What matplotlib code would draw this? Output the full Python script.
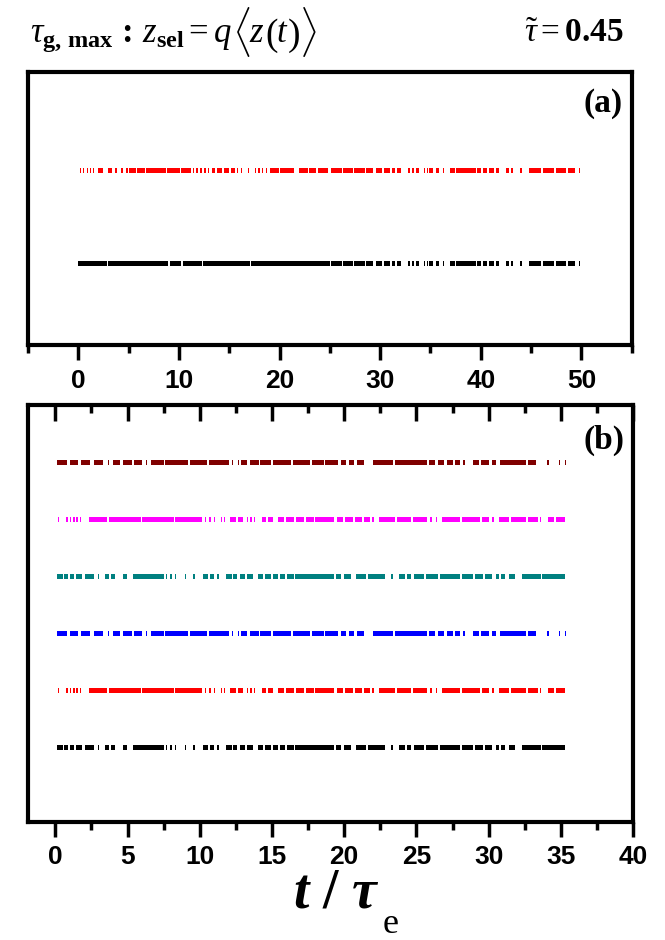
import matplotlib
matplotlib.use('Agg')
import matplotlib.pyplot as plt
import matplotlib.transforms as mtransforms
from matplotlib.ticker import MultipleLocator

plt.rcParams['mathtext.fontset'] = 'custom'
plt.rcParams['mathtext.rm'] = 'Liberation Serif'
plt.rcParams['mathtext.it'] = 'Liberation Serif:italic'
plt.rcParams['mathtext.bf'] = 'Liberation Serif:bold'
plt.rcParams['mathtext.bfit'] = 'Liberation Serif:italic:bold'

# ---- panel (a): occupied time windows (t / tau_e) ----
a_red_segments = [
    (2.0, 2.5), (3.0, 3.4), (3.7, 3.9), (4.2, 4.45),
    (5.0, 5.7), (5.85, 6.6), (6.75, 8.7), (8.85, 10.1), (10.25, 11.2),
    (13.3, 13.6), (13.8, 14.3), (14.45, 15.0), (15.15, 15.6),
    (19.1, 19.9), (20.05, 21.4), (21.9, 22.8), (22.95, 23.6), (23.8, 24.8),
    (25.1, 26.2), (26.35, 27.3), (27.45, 28.5), (28.6, 29.3),
    (29.6, 30.2), (30.35, 31.0), (31.15, 31.5), (31.7, 32.1),
    (32.8, 33.0), (33.2, 33.4), (33.6, 33.9), (34.9, 35.3), (35.5, 35.8),
    (36.9, 37.4), (37.55, 39.5), (39.6, 40.0), (40.2, 40.6), (40.8, 41.3),
    (41.5, 41.8), (42.5, 42.8),
    (44.8, 46.0), (46.2, 47.3), (47.5, 48.5), (48.7, 49.4),
]
a_red_ticks = [0.2, 0.55, 0.9, 1.25, 1.5, 4.85, 11.45, 11.8, 12.2, 12.6,
               12.95, 15.8, 16.2, 16.9, 17.6, 17.95, 18.3, 18.7, 34.4, 34.7,
               36.3, 43.1, 44.0, 49.8]
a_black_head = [(0.0, 2.85), (3.0, 8.95), (9.1, 10.25), (10.4, 12.25),
                (12.4, 17.05), (17.2, 25.0)]

# ---- panel (b): three recurring patterns ----
b_pattern_1 = [
    (0.12, 0.8), (1.0, 1.6), (1.75, 2.4), (2.65, 3.3), (4.0, 4.5),
    (4.65, 5.3), (5.45, 6.0), (6.6, 7.5), (7.6, 9.2), (9.35, 10.5),
    (10.65, 12.0), (12.85, 13.3), (13.45, 14.1), (14.2, 14.9),
    (15.05, 16.3), (16.45, 17.6), (17.75, 18.6), (18.7, 19.6),
    (19.75, 20.1), (20.3, 20.7), (20.9, 21.4), (22.0, 23.4), (23.5, 25.7),
    (25.9, 26.3), (26.5, 26.9), (27.1, 27.5), (27.7, 28.0),
    (28.9, 29.3), (29.5, 30.0), (30.2, 30.5), (30.8, 32.6), (32.7, 33.3),
]
b_ticks_1 = [3.7, 6.3, 12.25, 12.7, 28.3, 34.1, 34.9, 35.3]

b_pattern_2 = [
    (2.3, 3.6), (3.7, 5.9), (6.0, 8.2), (8.3, 10.15), (12.1, 12.5),
    (12.65, 13.0), (14.3, 14.6), (14.75, 15.1), (15.4, 15.8),
    (15.95, 16.5), (16.65, 17.2), (17.35, 17.9), (18.0, 19.3),
    (19.5, 19.9), (20.05, 20.6), (20.75, 21.2), (21.35, 21.8),
    (22.4, 23.5), (23.65, 24.6), (24.75, 25.7), (25.95, 26.1),
    (26.8, 28.0), (28.15, 29.4), (29.55, 30.0), (30.7, 31.4),
    (31.55, 32.6), (32.75, 33.4), (34.1, 34.5), (34.65, 35.3),
]
b_ticks_2 = [0.23, 0.8, 1.05, 1.3, 1.5, 1.73, 10.4, 10.7, 11.0, 11.5,
             11.7, 13.3, 13.55, 13.8, 22.0, 26.4, 30.3, 33.6]

b_pattern_3 = [
    (0.12, 0.5), (0.6, 0.9), (1.0, 1.3), (1.45, 1.85), (2.08, 2.65),
    (3.46, 3.7), (3.85, 4.15), (4.7, 4.96), (5.4, 7.5), (10.2, 10.6),
    (10.7, 11.0), (11.8, 12.2), (12.3, 12.6), (12.8, 13.1), (13.25, 13.7),
    (14.0, 14.4), (14.5, 14.9), (15.1, 15.4), (15.55, 15.9), (16.05, 16.5),
    (16.6, 19.3), (19.45, 19.8), (19.95, 20.5), (20.8, 21.5), (21.65, 22.8),
    (23.8, 24.2), (24.35, 24.6), (24.8, 25.5), (25.65, 26.5), (26.6, 28.0),
    (28.15, 28.9), (29.05, 29.6), (29.75, 30.2), (30.5, 30.7),
    (30.85, 31.1), (31.4, 31.8), (32.3, 33.6), (33.7, 35.3),
]
b_ticks_3 = [3.0, 7.7, 8.0, 8.3, 9.0, 9.6, 11.25, 23.3]

# rows of panel (b), bottom to top
b_rows = [
    ('black', b_pattern_3, b_ticks_3),
    ('#ff0000', b_pattern_2, b_ticks_2),
    ('#0000ff', b_pattern_1, b_ticks_1),
    ('#008080', b_pattern_3, b_ticks_3),
    ('#ff00ff', b_pattern_2, b_ticks_2),
    ('#800000', b_pattern_1, b_ticks_1),
]

a_ticks = [0, 10, 20, 30, 40, 50]
b_ticks = [0, 5, 10, 15, 20, 25, 30, 35, 40]
b_minor_ticks = [2.5, 7.5, 12.5, 17.5, 22.5, 27.5, 32.5, 37.5]

TICK_FONT = {'family': 'Liberation Sans', 'weight': 'bold', 'size': 19}


def draw_row(ax, y, segments, ticks, color, height, tick_w):
    """Draw one barcode row: solid windows plus single thin events."""
    bars = [(s, e - s) for s, e in segments]
    bars += [(t - tick_w / 2, tick_w) for t in ticks]
    ax.broken_barh(bars, (y - height / 2, height), facecolors=color,
                   edgecolors='none')


def style_axes(ax, ticks, minor):
    for sp in ax.spines.values():
        sp.set_linewidth(3)
    ax.set_yticks([])
    ax.set_xticks(ticks, [str(v) for v in ticks], fontdict=TICK_FONT)
    ax.xaxis.set_minor_locator(MultipleLocator(minor))
    ax.tick_params(axis='x', which='major', direction='out', length=11,
                   width=2.5, pad=6)
    ax.tick_params(axis='x', which='minor', direction='out', length=6,
                   width=2.5)


fig = plt.figure(figsize=(6.65, 9.4), dpi=100)

# panel (a)
ax_a = fig.add_axes([0.042, 0.633, 0.908, 0.290])
a_black = a_black_head + [s for s in a_red_segments if s[0] >= 25.0]
a_black_ticks = [t for t in a_red_ticks if t >= 25.0]
draw_row(ax_a, 1, a_black, a_black_ticks, 'black', 0.06, 0.13)
draw_row(ax_a, 2, a_red_segments, a_red_ticks, '#ff0000', 0.06, 0.13)
ax_a.set_xlim(-5, 55)
ax_a.set_ylim(0.12, 3.06)
style_axes(ax_a, a_ticks, 5)
ax_a.text(0.985, 0.885, '(a)', transform=ax_a.transAxes, ha='right',
          va='center', fontsize=24, fontweight='bold',
          family='Liberation Serif')

# panel (b)
ax_b = fig.add_axes([0.042, 0.126, 0.910, 0.443])
for i, (col, segs, tks) in enumerate(b_rows):
    draw_row(ax_b, i + 1, segs, tks, col, 0.09, 0.09)
ax_b.set_xlim(-1.9, 40)
ax_b.set_ylim(-0.3, 7.0)
style_axes(ax_b, b_ticks, 2.5)
# tick marks hanging from the top edge into the box
top_tr = mtransforms.blended_transform_factory(ax_b.transData,
                                               ax_b.transAxes)
ax_b.vlines(b_ticks, 0.963, 1.0, transform=top_tr, colors='black',
            linewidth=2.5, clip_on=False, zorder=5)
ax_b.vlines(b_minor_ticks, 0.981, 1.0, transform=top_tr, colors='black',
            linewidth=2.5, clip_on=False, zorder=5)
ax_b.set_xlim(-1.9, 40)
ax_b.set_ylim(-0.3, 7.0)
ax_b.text(0.985, 0.915, '(b)', transform=ax_b.transAxes, ha='right',
          va='center', fontsize=24, fontweight='bold',
          family='Liberation Serif')

# heading: formula built from pieces so brackets can be tall
base_y = 0.955
pieces = [
    (r'$\tau_{\mathbf{g,\,max}}\,\mathbf{:}\,z_{\mathbf{sel}}=q$', 25, 0, 0),
    (r'$\langle$', 30, 0, -3),
    (r'$z$', 25, -1, 0),
    (r'$($', 27, 0, -2),
    (r'$t$', 25, -1, 0),
    (r'$)$', 27, -1, -2),
    (r'$\rangle$', 30, -1, -3),
]
prev = fig.text(0.045, base_y, pieces[0][0], ha='left', va='baseline',
                fontsize=pieces[0][1])
for s, size, gap, dy in pieces[1:]:
    prev = ax_a.annotate(s, xy=(1, base_y), xycoords=(prev, 'figure fraction'),
                         xytext=(gap, dy), textcoords='offset points',
                         ha='left', va='baseline', fontsize=size,
                         annotation_clip=False)

fig.text(0.937, base_y, r'$\tilde{\tau}=\mathbf{0.45}$',
         ha='right', va='baseline', fontsize=24)

# axis title
fig.text(0.505, 0.035, r'$\mathbfit{t}$ / $\mathbfit{\tau}$',
         ha='center', va='baseline', fontsize=40, family='Liberation Serif',
         fontweight='bold')
fig.text(0.588, 0.007, 'e', ha='center', va='baseline', fontsize=26,
         family='Liberation Serif')

fig.savefig('out.png', dpi=100)
